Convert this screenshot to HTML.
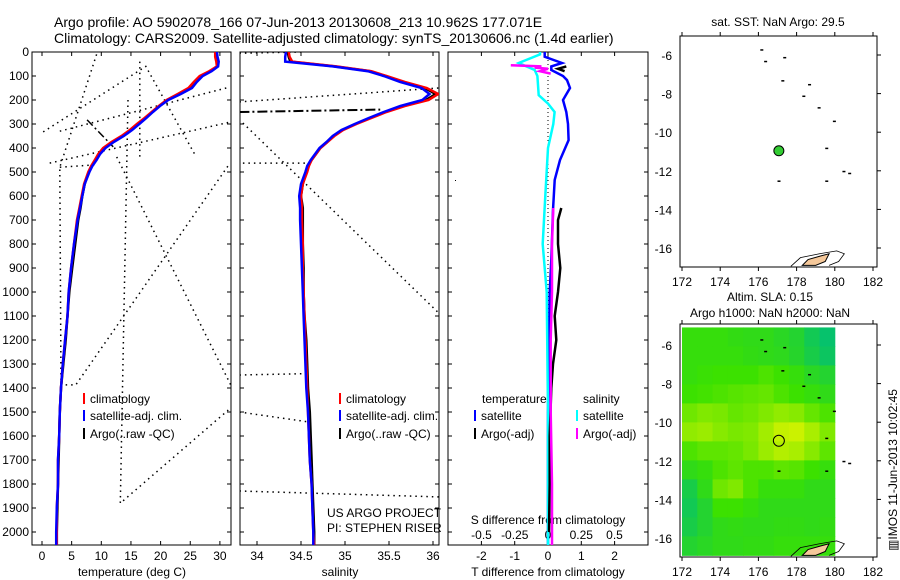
<!DOCTYPE html>
<html><head><meta charset="utf-8"><style>
body{margin:0;background:#fff}
svg{display:block;font-family:"Liberation Sans",sans-serif}
text{fill:#000}
</style></head><body>
<svg id="c" width="900" height="580" viewBox="0 0 900 580" xmlns="http://www.w3.org/2000/svg">
<defs>
<clipPath id="cp1"><rect x="32" y="52" width="199" height="493"/></clipPath>
<clipPath id="cp2"><rect x="240" y="52" width="199" height="493"/></clipPath>
<clipPath id="cp3"><rect x="448" y="52" width="200" height="493"/></clipPath>
<clipPath id="cpm1"><rect x="680" y="36" width="197" height="231"/></clipPath>
<clipPath id="cpm2"><rect x="680" y="324" width="197" height="233"/></clipPath>
</defs>
<text x="54" y="27" font-size="14">Argo profile: AO 5902078_166 07-Jun-2013 20130608_213 10.962S 177.071E</text>
<text x="54" y="43" font-size="14">Climatology: CARS2009. Satellite-adjusted climatology: synTS_20130606.nc (1.4d earlier)</text>
<text x="778" y="26" font-size="12" text-anchor="middle">sat. SST: NaN Argo: 29.5</text>
<text x="770" y="301" font-size="12" text-anchor="middle">Altim. SLA: 0.15</text>
<text x="770" y="317" font-size="12" text-anchor="middle">Argo h1000: NaN h2000: NaN</text>
<text transform="translate(897,470) rotate(-90)" font-size="12" text-anchor="middle">▥IMOS 11-Jun-2013 10:02:45</text>
<g id="g"></g>
</svg>
<script>
// ---- data ----
const depths=[0,20,40,60,80,100,125,150,175,200,225,250,275,300,325,350,375,400,425,450,475,500,550,600,650,700,800,900,1000,1100,1200,1300,1400,1500,1600,1700,1800,1900,2000,2060];
const tempClim=[29.2,29.2,29.4,29.5,28.2,26.6,25.6,24.7,22.9,21,19.7,18.5,17.3,16,14.8,13.4,11.7,10.3,9.5,8.9,8.3,7.8,7.1,6.7,6.3,5.9,5.4,4.9,4.5,4.3,3.9,3.5,3.2,3.0,2.9,2.7,2.7,2.5,2.5,2.5];
const tempSat=[29.5,29.6,29.8,29.7,28.6,27.1,26.1,25.3,23.4,21.3,19.9,18.7,17.6,16.4,15.2,13.8,12.1,10.7,9.8,9.2,8.5,8.0,7.2,6.8,6.4,6.0,5.4,4.9,4.5,4.3,3.9,3.5,3.2,3.0,2.9,2.7,2.7,2.5,2.4,2.4];
const tempArgo=[29.4,29.5,29.6,29.5,28.4,26.9,25.9,25.0,23.1,21.1,19.8,18.6,17.4,16.2,15.0,13.6,11.9,10.5,9.6,9.0,8.4,7.9,7.2,6.8,6.5,6.1,5.6,5.1,4.6,4.3,4.0,3.6,3.2,3.0,2.9,2.8,2.7,2.6,2.5,2.5];
const salClim=[34.36,34.37,34.40,34.90,35.30,35.47,35.68,35.93,36.06,35.95,35.68,35.47,35.30,35.13,34.98,34.88,34.80,34.72,34.67,34.62,34.59,34.57,34.52,34.50,34.51,34.51,34.52,34.52,34.53,34.54,34.55,34.56,34.57,34.58,34.59,34.60,34.62,34.63,34.64,34.65];
const salSat=[34.33,34.32,34.32,34.86,35.26,35.44,35.63,35.87,35.96,35.88,35.63,35.44,35.27,35.11,34.96,34.86,34.79,34.71,34.66,34.61,34.57,34.55,34.50,34.48,34.49,34.49,34.50,34.51,34.52,34.53,34.54,34.55,34.56,34.58,34.59,34.60,34.62,34.63,34.64,34.64];
const salArgo=[34.35,34.36,34.38,34.88,35.29,35.46,35.66,35.91,36.03,35.92,35.65,35.45,35.28,35.12,34.97,34.87,34.80,34.72,34.67,34.62,34.58,34.56,34.52,34.50,34.52,34.52,34.52,34.53,34.53,34.54,34.56,34.57,34.58,34.60,34.61,34.62,34.63,34.64,34.65,34.65];
const tDiffSatD=[0,20,46,60,75,100,117,150,200,250,300,367,450,533,658,867,1000,1500,2000,2060];
const tDiffSat=[-0.1,-0.1,0.42,0.1,0.1,0.45,0.57,0.66,0.45,0.55,0.6,0.62,0.36,0.2,0.15,0.1,0.05,0.0,0.0,0.0];
const sDiffSatD=[0,10,46,75,100,180,215,250,300,400,600,800,1000,1500,2060];
const sDiffSat=[-0.06,-0.06,-0.22,-0.1,-0.08,-0.07,0.0,0.05,0.04,0.0,-0.02,-0.04,-0.01,0.0,0.0];
const sDiffArgoD1=[55,60,65,70,80,90];
const sDiffArgo1=[-0.28,-0.05,-0.1,0.0,-0.06,0.02];
const sDiffArgoD2=[650,800,1000,1200,1500,1800,2000,2060];
const sDiffArgo2=[0.04,0.03,0.03,0.02,0.02,0.03,0.03,0.03];
const tDiffArgoD1=[60,70,80];
const tDiffArgo1=[0.55,0.3,0.5];
const tDiffArgoD2=[650,700,800,900,1000,1100,1200,1300,1400,1600,1800,2000];
const tDiffArgo2=[0.4,0.3,0.3,0.37,0.3,0.2,0.25,0.15,0.1,0.05,0.05,0.03];
// raw (bad QC) dotted segments [temp,depth]
const rawTemp=[[[9.2,10],[3,480],[3.2,1387],[5.7,1387],[31.7,463]],[[0.2,333],[17.5,60],[26,437]],[[1.3,463],[31.7,292]],[[3,330],[31.7,146]],[[14.5,200],[13.2,1880],[31.4,1492]],[[16.5,40],[16.5,450]],[[12.6,437],[32,1396]],[[3,480],[9,470]]];
const rawTempDash=[[7.6,283],[12,395]];
const rawSal=[[[33.8,5],[34.5,0]],[[33.8,208],[36.06,150]],[[33.84,296],[36.1,1100]],[[33.84,463],[34.6,463]],[[33.8,1346],[34.58,1340]],[[33.8,1500],[34.6,1542]],[[33.8,1829],[36.1,1854]]];
const rawSalDash=[[33.8,250],[35.4,240]];
const argoLon=177.071, argoLat=-10.962;
const yTicks=[0,100,200,300,400,500,600,700,800,900,1000,1100,1200,1300,1400,1500,1600,1700,1800,1900,2000];
const tTicks=[0,5,10,15,20,25,30];
const sTicks=[34,34.5,35,35.5,36];
const dtTicks=[-2,-1,0,1,2];
const dsTicks=[-0.5,-0.25,0,0.25,0.5];
const dsTickLabels=["-0.5","-0.25","0","0.25","0.5"];
const lonTicks=[172,174,176,178,180,182];
const latTicks=[-6,-8,-10,-12,-14,-16];
const slaGrid=[
[0.45,0.45,0.45,0.42,0.4,0.4,0.35,0.3,0.15,0.05],
[0.45,0.45,0.45,0.45,0.42,0.4,0.38,0.32,0.2,0.1],
[0.45,0.48,0.5,0.5,0.5,0.55,0.5,0.45,0.35,0.3],
[0.5,0.52,0.55,0.58,0.6,0.62,0.55,0.5,0.45,0.4],
[0.65,0.7,0.68,0.62,0.65,0.7,0.75,0.72,0.62,0.55],
[0.75,0.78,0.72,0.68,0.7,0.8,0.9,0.92,0.82,0.7],
[0.55,0.6,0.6,0.62,0.68,0.78,0.85,0.82,0.72,0.6],
[0.4,0.45,0.55,0.6,0.55,0.55,0.6,0.58,0.5,0.45],
[0.2,0.4,0.65,0.7,0.55,0.45,0.45,0.45,0.4,0.4],
[0.15,0.3,0.5,0.5,0.45,0.4,0.4,0.4,0.4,0.4],
[0.2,0.3,0.4,0.42,0.4,0.4,0.42,0.42,0.4,0.42],
[0.3,0.35,0.4,0.4,0.42,0.42,0.45,0.45,0.45,0.45]];
const islands=[[176.1,-5.7],[176.3,-6.3],[177.3,-6.1],[177.2,-7.3],[178.6,-7.5],[178.3,-8.1],[179.1,-8.7],[179.9,-9.4],[179.5,-10.8],[177.0,-12.5],[179.5,-12.5],[180.4,-12.0],[180.7,-12.1]];

// ---- scales ----
const yD=d=>52+d*0.24, xT=t=>42+t*5.93, xS=s=>257+(s-34)*88;
const xDT=v=>548+v*33.3, xDS=v=>548+v*133;
const lx=lon=>682+(lon-172)*19.1, ly1=lat=>55+(-6-lat)*19.3, ly2=lat=>345+(-6-lat)*19.3;
const NS='http://www.w3.org/2000/svg', G=document.getElementById('g');
function mk(tag,at,parent){const e=document.createElementNS(NS,tag);for(const k in at)e.setAttribute(k,at[k]);(parent||G).appendChild(e);return e;}
function line(xs,ys,vals,dep,color,w,clip,name,dash){
  const p=vals.map((v,i)=>xs(v).toFixed(1)+','+ys(dep[i]).toFixed(1)).join(' ');
  const e=mk('polyline',{points:p,fill:'none',stroke:color,'stroke-width':w,'clip-path':'url(#'+clip+')'});
  if(dash)e.setAttribute('stroke-dasharray',dash);
  
  
  return e;}
function txt(x,y,s,anchor,size,name){const e=mk('text',{x:x,y:y,'font-size':size||12,'text-anchor':anchor||'start'});e.textContent=s;
  
  return e;}

// frames & ticks for profile panels
const panels=[[32,231,'temperature-panel'],[240,439,'salinity-panel'],[448,648,'difference-panel']];
panels.forEach(([x0,x1,n])=>{
  const r=mk('rect',{x:x0,y:52,width:x1-x0,height:493,fill:'none',stroke:'#000','stroke-width':1});
  
  
  yTicks.forEach(d=>{mk('line',{x1:x0,x2:x0+4,y1:yD(d),y2:yD(d),stroke:'#000'});mk('line',{x1:x1-4,x2:x1,y1:yD(d),y2:yD(d),stroke:'#000'});});
});
yTicks.forEach(d=>txt(29,yD(d)+4,String(d),'end',12,'y-tick-label'));
tTicks.forEach(t=>{mk('line',{x1:xT(t),x2:xT(t),y1:52,y2:56,stroke:'#000'});mk('line',{x1:xT(t),x2:xT(t),y1:541,y2:545,stroke:'#000'});txt(xT(t),560,String(t),'middle',12,'temp-tick-label');});
sTicks.forEach(s=>{mk('line',{x1:xS(s),x2:xS(s),y1:52,y2:56,stroke:'#000'});mk('line',{x1:xS(s),x2:xS(s),y1:541,y2:545,stroke:'#000'});txt(xS(s),560,String(s),'middle',12,'sal-tick-label');});
dtTicks.forEach(v=>{mk('line',{x1:xDT(v),x2:xDT(v),y1:52,y2:56,stroke:'#000'});mk('line',{x1:xDT(v),x2:xDT(v),y1:541,y2:545,stroke:'#000'});txt(xDT(v),560,String(v),'middle',12,'tdiff-tick-label');});
dsTicks.forEach((v,i)=>txt(xDS(v),539,dsTickLabels[i],'middle',12,'sdiff-tick-label'));
txt(132,576,'temperature (deg C)','middle',12,'x-axis-title-temperature');
txt(340,576,'salinity','middle',12,'x-axis-title-salinity');
txt(548,576,'T difference from climatology','middle',12,'x-axis-title-tdiff');
txt(548,524,'S difference from climatology','middle',12,'axis-title-sdiff');

// raw dotted
rawTemp.forEach(seg=>line(a=>xT(a[0]),d=>yD(d),seg,seg.map(a=>a[1]),'#000',1.5,'cp1','raw-temp-dotted','1.5,4'));
line(a=>xT(a[0]),d=>yD(d),rawTempDash,rawTempDash.map(a=>a[1]),'#000',1.5,'cp1','raw-temp-dashdot','8,3,2,3');
rawSal.forEach(seg=>line(a=>xS(a[0]),d=>yD(d),seg,seg.map(a=>a[1]),'#000',1.5,'cp2','raw-sal-dotted','1.5,4'));
line(a=>xS(a[0]),d=>yD(d),rawSalDash,rawSalDash.map(a=>a[1]),'#000',2,'cp2','raw-sal-dashdot','10,3,2,3');
// profiles
line(xT,yD,tempArgo,depths,'#000',2.5,'cp1','temp-argo-line');
line(xT,yD,tempClim,depths,'#f00',2.5,'cp1','temp-climatology-line');
line(xT,yD,tempSat,depths,'#00f',2.5,'cp1','temp-satellite-line');
line(xS,yD,salArgo,depths,'#000',2.5,'cp2','sal-argo-line');
line(xS,yD,salClim,depths,'#f00',2.5,'cp2','sal-climatology-line');
line(xS,yD,salSat,depths,'#00f',2.5,'cp2','sal-satellite-line');
// diff panel
const zl=mk('line',{x1:548,x2:548,y1:52,y2:545,stroke:'#000','stroke-dasharray':'1,3'});


line(xDT,yD,tDiffSat,tDiffSatD,'#00f',2.5,'cp3','tdiff-satellite-line');
line(xDS,yD,sDiffSat,sDiffSatD,'#0ff',2.5,'cp3','sdiff-satellite-line');
line(xDT,yD,tDiffArgo1,tDiffArgoD1,'#000',2.5,'cp3','tdiff-argo-line');
line(xDT,yD,tDiffArgo2,tDiffArgoD2,'#000',2.5,'cp3','tdiff-argo-line');
line(xDS,yD,sDiffArgo1,sDiffArgoD1,'#f0f',2.5,'cp3','sdiff-argo-line');
line(xDS,yD,sDiffArgo2,sDiffArgoD2,'#f0f',2.5,'cp3','sdiff-argo-line');
mk('rect',{x:455,y:180,width:1,height:1,fill:'#000'});

// legends
function leg(x,y,color,label,name){const b=mk('rect',{x:x,y:y-10,width:2,height:11,fill:color});
  
  
  txt(x+7,y,label,'start',12,name);}
leg(83,403,'#f00','climatology','legend-climatology');
leg(83,420,'#00f','satellite-adj. clim.','legend-satellite');
leg(83,438,'#000','Argo(..raw -QC)','legend-argo');
leg(339,403,'#f00','climatology','legend-sal-climatology');
leg(339,420,'#00f','satellite-adj. clim.','legend-sal-satellite');
leg(339,438,'#000','Argo(..raw -QC)','legend-sal-argo');
txt(482,403,'temperature','start',12,'legend-temperature-heading');
txt(583,403,'salinity','start',12,'legend-salinity-heading');
leg(474,420,'#00f','satellite','legend-tdiff-satellite');
leg(474,438,'#000','Argo(-adj)','legend-tdiff-argo');
leg(576,420,'#0ff','satellite','legend-sdiff-satellite');
leg(576,438,'#f0f','Argo(-adj)','legend-sdiff-argo');
txt(327,517,'US ARGO PROJECT','start',12,'project-label');
txt(327,532,'PI: STEPHEN RISER','start',12,'pi-label');

// maps
function colorOf(v){const c0=[0,190,120],c1=[60,225,0],c2=[230,245,0];let a,b,t;
  if(v<0.5){a=c0;b=c1;t=v/0.5}else{a=c1;b=c2;t=(v-0.5)/0.5}
  return 'rgb('+a.map((q,i)=>Math.round(q+(b[i]-q)*t)).join(',')+')';}
const rows=slaGrid.length, cols=slaGrid[0].length, latTop=-5.09, latBot=-16.9;
slaGrid.forEach((row,i)=>row.forEach((v,j)=>{
  const la0=latTop+(latBot-latTop)*i/rows, la1=latTop+(latBot-latTop)*(i+1)/rows;
  const lo0=172+8*j/cols, lo1=172+8*(j+1)/cols;
  const r=mk('rect',{x:lx(lo0),y:ly2(la0),width:lx(lo1)-lx(lo0)+0.5,height:ly2(la1)-ly2(la0)+0.5,fill:colorOf(v),'clip-path':'url(#cpm2)'});
  
  
}));
[[ly1,36,267,'map-sst'],[ly2,324,557,'map-sla']].forEach(([ly,y0,y1,n])=>{
  const f=mk('rect',{x:680,y:y0,width:197,height:y1-y0,fill:'none',stroke:'#000'});
  
  
  lonTicks.forEach(l=>{mk('line',{x1:lx(l),x2:lx(l),y1:y0-4,y2:y0,stroke:'#000'});mk('line',{x1:lx(l),x2:lx(l),y1:y1,y2:y1+4,stroke:'#000'});txt(lx(l),y1+19,String(l),'middle',12,'lon-tick-label');});
  latTicks.forEach(l=>{mk('line',{x1:877,x2:881,y1:ly(l),y2:ly(l),stroke:'#000'});txt(672,ly(l)+5,String(l),'end',12,'lat-tick-label');});
  islands.forEach(p=>mk('rect',{x:lx(p[0]),y:ly(p[1]),width:3,height:1.5,fill:'#000'}));
  const fj=mk('path',{d:`M${lx(178.3)},${ly(-16.9)} L${lx(178.6)},${ly(-16.6)} L${lx(179.3)},${ly(-16.4)} L${lx(179.7)},${ly(-16.3)} L${lx(179.5)},${ly(-16.7)} L${lx(179.0)},${ly(-16.9)} Z`,fill:'#f5c89a',stroke:'#000','stroke-width':1});
  
  
  mk('path',{d:`M${lx(177.7)},${ly(-16.95)} L${lx(178.2)},${ly(-16.5)} L${lx(179.2)},${ly(-16.3)} L${lx(180.1)},${ly(-16.15)} L${lx(180.5)},${ly(-16.3)} L${lx(180.2)},${ly(-16.7)} L${lx(179.7)},${ly(-16.9)}`,fill:'none',stroke:'#000','stroke-width':0.8});
});
const d1=mk('circle',{cx:lx(argoLon),cy:ly1(argoLat),r:5,fill:'#3c3',stroke:'#000'});


const d2=mk('circle',{cx:lx(argoLon),cy:ly2(argoLat),r:5.5,fill:'none',stroke:'#000'});


</script>
</body></html>
